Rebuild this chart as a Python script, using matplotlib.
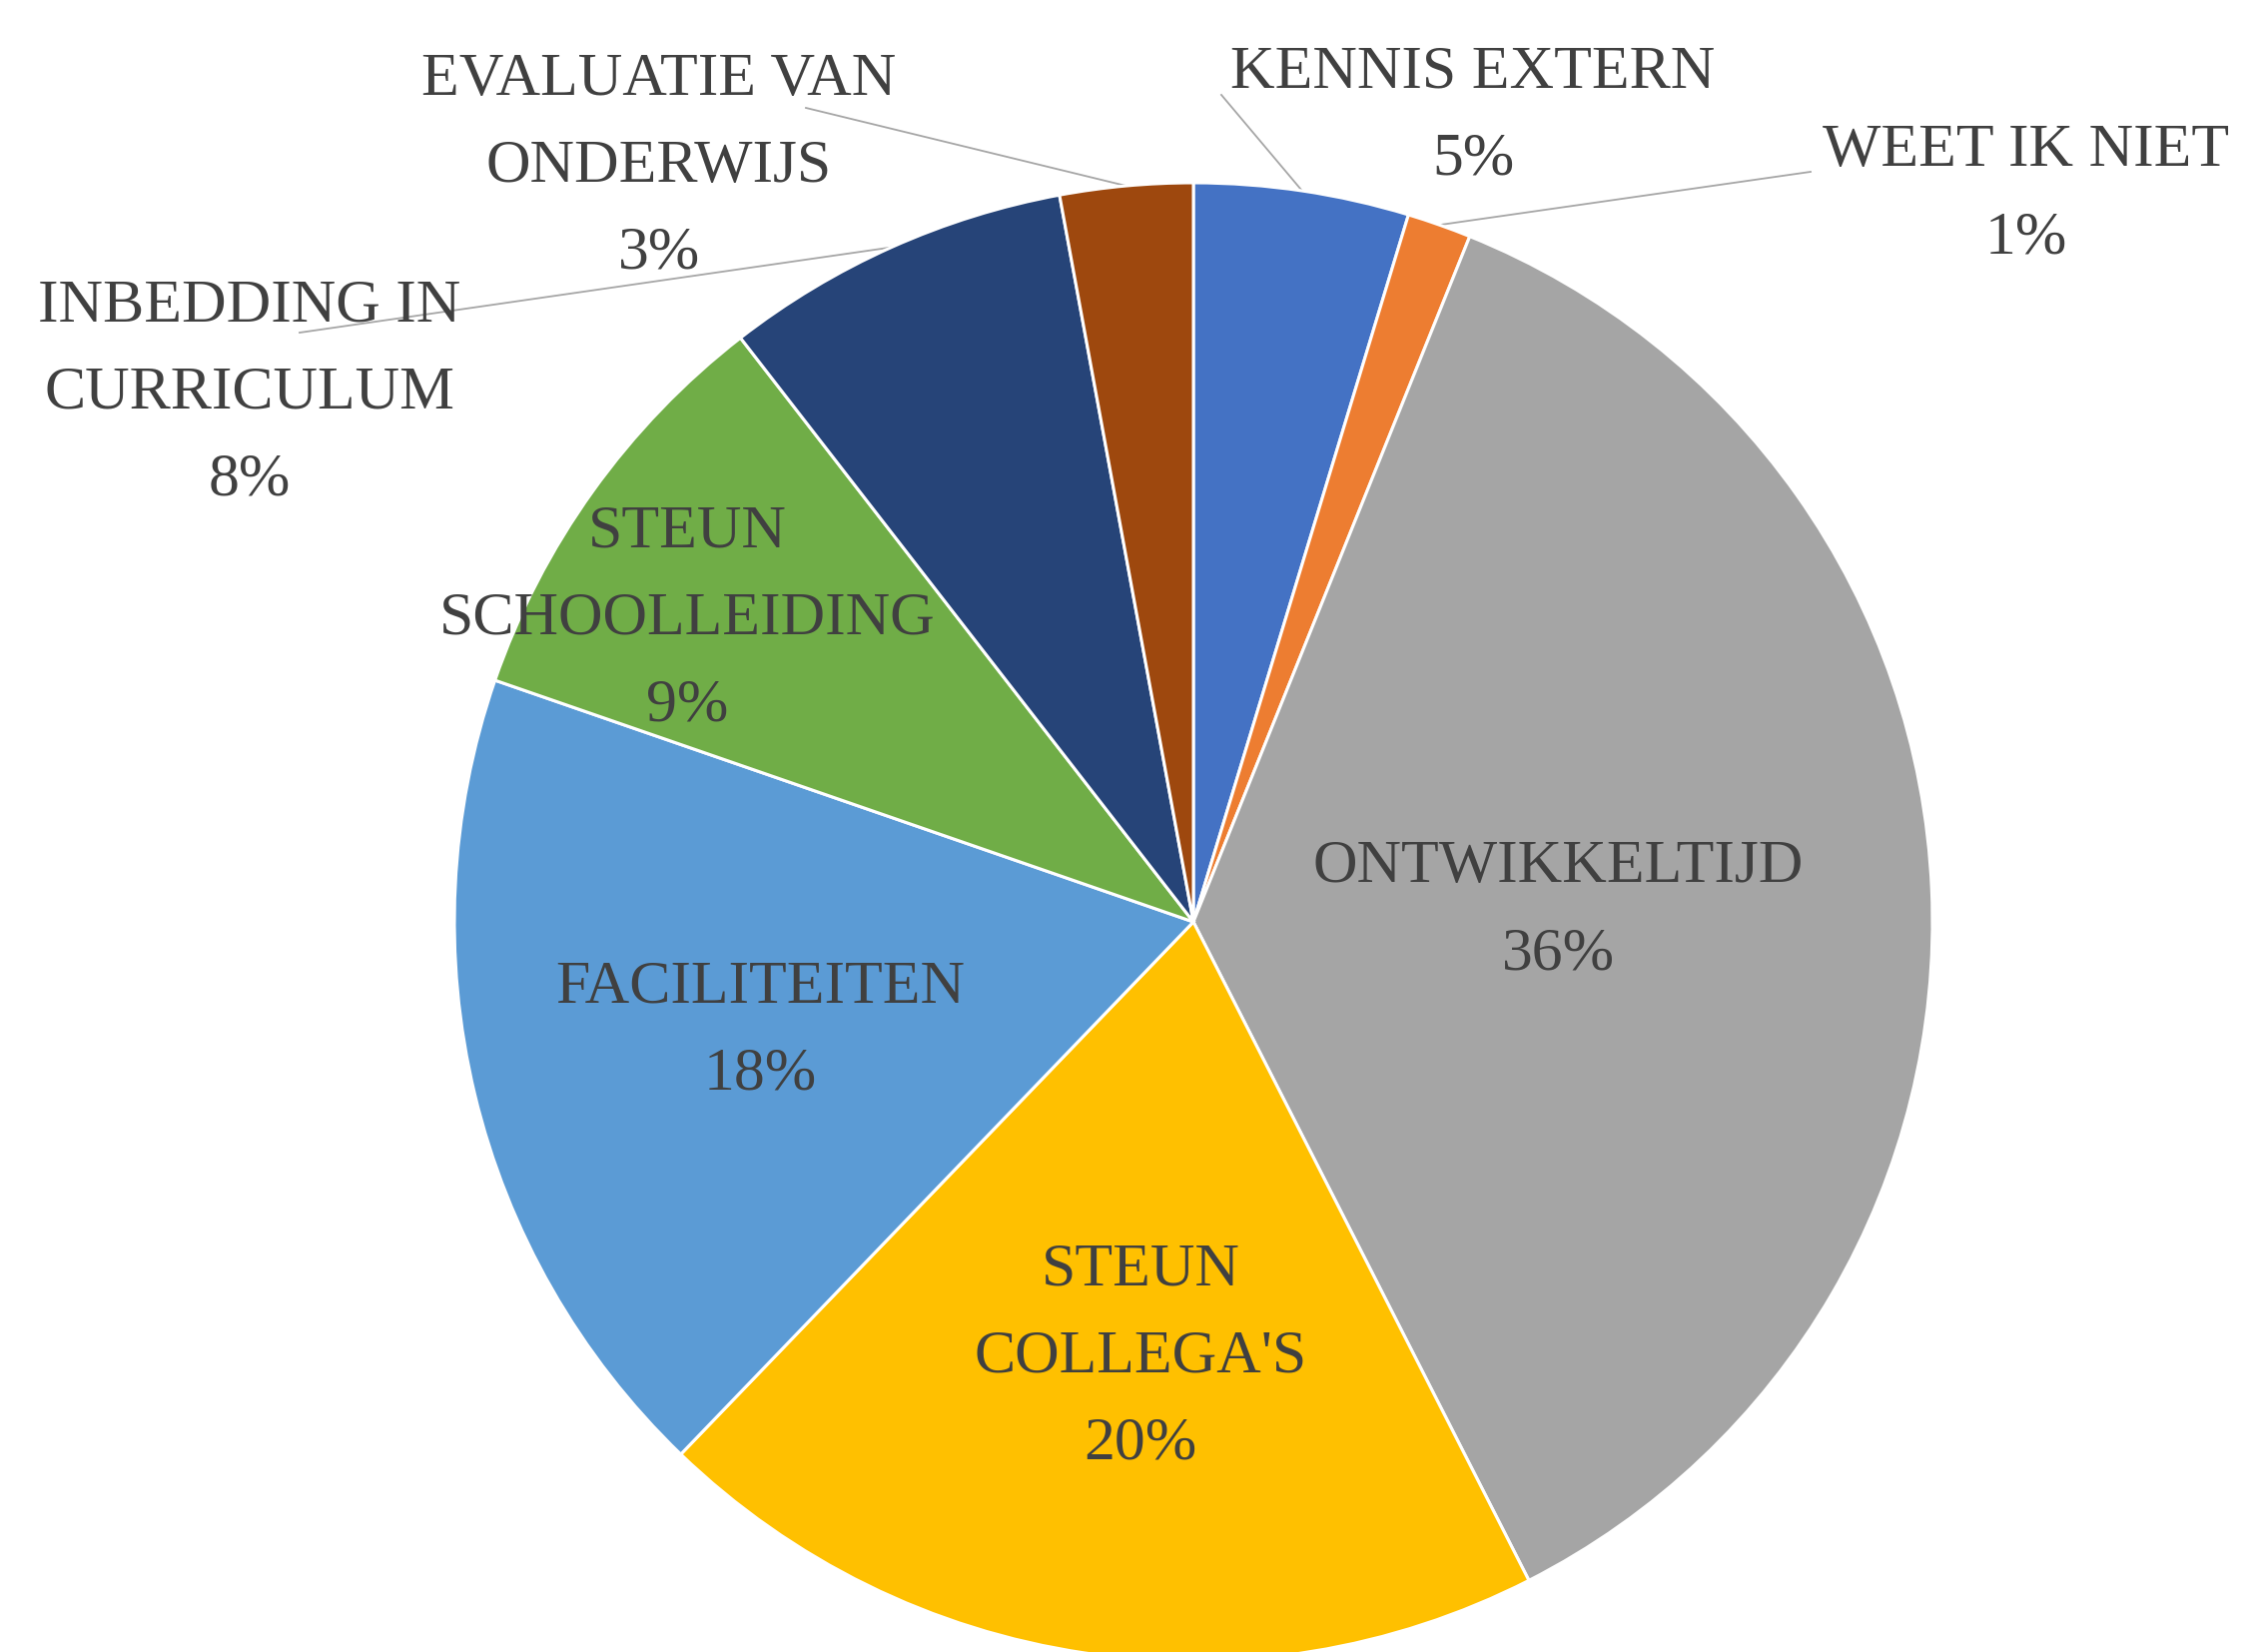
import matplotlib
matplotlib.use("Agg")
import matplotlib.pyplot as plt
import numpy as np

# ---- data (clockwise from 12 o'clock) ----
categories = ["KENNIS EXTERN", "WEET IK NIET", "ONTWIKKELTIJD", "STEUN\nCOLLEGA'S",
              "FACILITEITEN", "STEUN\nSCHOOLLEIDING", "INBEDDING IN\nCURRICULUM",
              "EVALUATIE VAN\nONDERWIJS"]
shares = [4.7, 1.4, 36.4, 19.7, 18.1, 9.2, 7.6, 2.9]
colors = ["#4472C4", "#ED7D31", "#A5A5A5", "#FFC000", "#5B9BD5", "#70AD47", "#264478", "#9E480E"]

# ---- layout (pixels in the 2244x1654 canvas) ----
W, H = 2244, 1654
CX, CY, R = 1195, 923, 740
# label centre (px) and, for outside labels, leader-line anchor (px)
label_pos = [(1475, 116), (2029, 195), (1560, 912), (1142, 1359),
             (761, 1032), (688, 620), (250, 394), (660, 167)]
leader_anchor = [(1223, 95), (1813, 172), None, None, None, None, (300, 333), (807, 108)]

def px2d(px, py):
    return (px - CX) / R, (CY - py) / R

plt.rcParams['font.family'] = ['Liberation Serif', 'DejaVu Serif']
fig = plt.figure(figsize=(W / 100, H / 100), dpi=100)
ax = fig.add_axes([0, 0, 1, 1])

wedges, _ = ax.pie(shares, colors=colors, startangle=90, counterclock=False,
                   radius=1, center=(0, 0),
                   wedgeprops=dict(edgecolor="white", linewidth=2.2))

ax.set_xlim((0 - CX) / R, (W - CX) / R)
ax.set_ylim((CY - H) / R, CY / R)
ax.set_aspect('auto')
ax.axis('off')

total = sum(shares)
for w, cat, val, lp, anc in zip(wedges, categories, shares, label_pos, leader_anchor):
    txt = f"{cat}\n{round(val / total * 100):.0f}%"
    x, y = px2d(*lp)
    ax.text(x, y, txt, ha='center', va='center', multialignment='center',
            fontsize=44.5, color='#404040', linespacing=1.74)
    if anc is not None:
        mid = np.deg2rad((w.theta1 + w.theta2) / 2)
        ex, ey = np.cos(mid), np.sin(mid)
        axp, ayp = px2d(*anc)
        ax.plot([axp, ex], [ayp, ey], color='#A6A6A6', lw=1.3, zorder=0.5)

fig.savefig("out.png", dpi=100, facecolor='white')
